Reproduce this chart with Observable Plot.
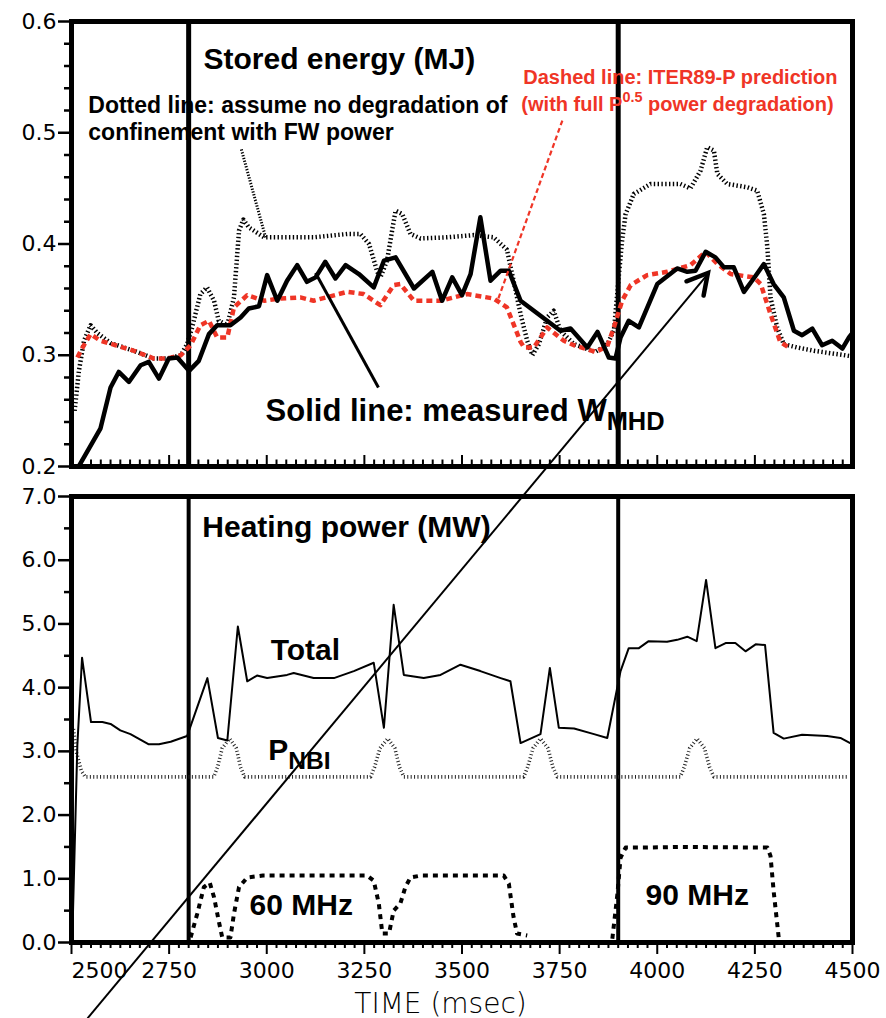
<!DOCTYPE html>
<html>
<head>
<meta charset="utf-8">
<script src="https://cdn.jsdelivr.net/npm/d3@7"></script>
<script src="https://cdn.jsdelivr.net/npm/@observablehq/plot@0.6"></script>
<style>
  html, body { margin: 0; padding: 0; background: #fff; }
  #chart { position: relative; width: 886px; height: 1018px; overflow: hidden; }
  #chart svg { position: absolute; left: 0; top: 0; }
</style>
</head>
<body>
<div id="chart"></div>
<script>
// ---------------- data ----------------
// Time axis (ms)
const timeDomain = [2500, 4500];
const timeTicks = [2500, 2750, 3000, 3250, 3500, 3750, 4000, 4250, 4500];
const timeMinorTicks = d3.range(2500, 4501, 25).filter(t => t % 250 !== 0);

// Stored-energy axis (MJ)
const energyDomain = [0.2, 0.6];
const energyTicks = [0.2, 0.3, 0.4, 0.5, 0.6];
const energyMinorTicks = [0.22, 0.24, 0.26, 0.28, 0.32, 0.34, 0.36, 0.38,
  0.42, 0.44, 0.46, 0.48, 0.52, 0.54, 0.56, 0.58];

// Heating-power axis (MW)
const powerDomain = [0, 7];
const powerTicks = [0, 1, 2, 3, 4, 5, 6, 7];
const powerMinorTicks = [0.5, 1.5, 2.5, 3.5, 4.5, 5.5, 6.5];

// FW (fast wave) switch-on times
const fwEdges = [2800, 3900];

// Measured W_MHD (MJ)
const measuredW = [
  [2520, 0.201], [2574, 0.234], [2600, 0.271], [2621, 0.285], [2647, 0.276],
  [2677, 0.291], [2698, 0.294], [2724, 0.279], [2749, 0.297], [2771, 0.298],
  [2801, 0.286], [2826, 0.295], [2852, 0.319], [2873, 0.327], [2907, 0.327],
  [2933, 0.334], [2954, 0.342], [2980, 0.344], [3001, 0.372], [3027, 0.349],
  [3052, 0.367], [3078, 0.381], [3103, 0.366], [3125, 0.370], [3150, 0.384],
  [3176, 0.369], [3202, 0.381], [3236, 0.373], [3274, 0.361], [3300, 0.385],
  [3330, 0.388], [3377, 0.360], [3424, 0.375], [3449, 0.349], [3475, 0.370],
  [3500, 0.354], [3522, 0.373], [3547, 0.424], [3573, 0.367], [3599, 0.376],
  [3620, 0.376], [3650, 0.349], [3718, 0.331], [3752, 0.322], [3778, 0.324],
  [3821, 0.307], [3847, 0.321], [3876, 0.298], [3893, 0.297], [3906, 0.316],
  [3927, 0.331], [3953, 0.325], [4000, 0.364], [4051, 0.378], [4077, 0.375],
  [4098, 0.376], [4124, 0.393], [4149, 0.388], [4171, 0.379], [4196, 0.379],
  [4222, 0.357], [4247, 0.369], [4273, 0.382], [4298, 0.364], [4324, 0.352],
  [4350, 0.322], [4371, 0.318], [4397, 0.324], [4422, 0.309], [4448, 0.313],
  [4474, 0.306], [4491, 0.316], [4500, 0.320]
];

// ITER89-P prediction with full P^0.5 degradation (MJ)
const iter89W = [
  [2515, 0.298], [2530, 0.308], [2549, 0.319], [2574, 0.313], [2613, 0.309],
  [2660, 0.304], [2711, 0.297], [2745, 0.297], [2780, 0.300], [2805, 0.309],
  [2830, 0.327], [2852, 0.331], [2873, 0.316], [2899, 0.316], [2916, 0.343],
  [2950, 0.354], [2993, 0.349], [3035, 0.351], [3086, 0.352], [3120, 0.349],
  [3206, 0.357], [3248, 0.355], [3291, 0.345], [3325, 0.363], [3342, 0.364],
  [3377, 0.349], [3445, 0.349], [3513, 0.355], [3581, 0.351], [3615, 0.343],
  [3650, 0.312], [3659, 0.307], [3684, 0.307], [3718, 0.325], [3761, 0.313],
  [3787, 0.309], [3842, 0.303], [3872, 0.308], [3889, 0.325], [3910, 0.349],
  [3932, 0.363], [3974, 0.372], [4025, 0.375], [4085, 0.381], [4124, 0.393],
  [4154, 0.382], [4188, 0.373], [4247, 0.370], [4265, 0.364], [4290, 0.337],
  [4315, 0.312], [4341, 0.306]
];

// No degradation of confinement with FW power (MJ)
const noDegradationW = [
  [2508, 0.250], [2519, 0.286], [2532, 0.313], [2549, 0.327], [2566, 0.320],
  [2600, 0.311], [2660, 0.304], [2711, 0.297], [2745, 0.297], [2780, 0.300],
  [2796, 0.310], [2809, 0.325], [2830, 0.355], [2847, 0.361], [2865, 0.349],
  [2877, 0.331], [2899, 0.327], [2916, 0.352], [2929, 0.412], [2940, 0.422],
  [2954, 0.415], [2993, 0.406], [3035, 0.406], [3120, 0.406], [3206, 0.409],
  [3240, 0.409], [3262, 0.400], [3283, 0.375], [3291, 0.370], [3308, 0.385],
  [3321, 0.412], [3330, 0.430], [3347, 0.427], [3368, 0.409], [3394, 0.405],
  [3462, 0.406], [3530, 0.408], [3581, 0.406], [3615, 0.395], [3632, 0.367],
  [3650, 0.337], [3667, 0.313], [3680, 0.300], [3697, 0.310], [3718, 0.334],
  [3735, 0.340], [3752, 0.322], [3787, 0.310], [3842, 0.303], [3872, 0.310],
  [3889, 0.322], [3902, 0.373], [3910, 0.403], [3919, 0.427], [3940, 0.445],
  [3983, 0.454], [4059, 0.454], [4085, 0.450], [4111, 0.466], [4128, 0.487],
  [4145, 0.484], [4154, 0.463], [4179, 0.454], [4231, 0.451], [4256, 0.448],
  [4273, 0.427], [4282, 0.397], [4290, 0.352], [4307, 0.325], [4324, 0.310],
  [4358, 0.307], [4401, 0.304], [4500, 0.299]
];

// Total heating power (MW)
const totalPower = [
  [2502, 0.05], [2515, 3.10], [2527, 4.47], [2550, 3.46], [2579, 3.46],
  [2600, 3.43], [2625, 3.33], [2651, 3.27], [2698, 3.11], [2724, 3.11],
  [2754, 3.15], [2796, 3.24], [2848, 4.15], [2875, 3.21], [2899, 3.17],
  [2926, 4.96], [2950, 4.10], [2975, 4.19], [3001, 4.15], [3052, 4.20],
  [3069, 4.23], [3120, 4.15], [3172, 4.15], [3223, 4.26], [3274, 4.39],
  [3300, 3.37], [3325, 5.30], [3351, 4.20], [3402, 4.15], [3445, 4.20],
  [3496, 4.36], [3547, 4.26], [3599, 4.15], [3624, 4.10], [3650, 3.13],
  [3701, 3.27], [3725, 4.31], [3748, 3.37], [3787, 3.36], [3838, 3.27],
  [3872, 3.21], [3906, 4.26], [3927, 4.62], [3953, 4.62], [3978, 4.73],
  [4025, 4.72], [4051, 4.75], [4077, 4.80], [4101, 4.73], [4125, 5.69],
  [4149, 4.62], [4175, 4.70], [4200, 4.70], [4226, 4.57], [4252, 4.68],
  [4276, 4.67], [4298, 3.29], [4324, 3.20], [4371, 3.26], [4435, 3.24],
  [4469, 3.21], [4500, 3.11]
];

// Neutral-beam power P_NBI (MW)
const nbiPower = [
  [2505, 3.35], [2512, 3.00], [2525, 2.70], [2535, 2.60], [2864, 2.60],
  [2874, 2.75], [2886, 3.05], [2905, 3.20], [2922, 3.05], [2933, 2.75],
  [2943, 2.60], [3266, 2.60], [3276, 2.75], [3290, 3.05], [3310, 3.20],
  [3328, 3.05], [3340, 2.75], [3351, 2.60], [3658, 2.60], [3668, 2.75],
  [3682, 3.05], [3701, 3.20], [3720, 3.05], [3733, 2.75], [3744, 2.60],
  [4059, 2.60], [4069, 2.75], [4083, 3.05], [4102, 3.20], [4121, 3.05],
  [4134, 2.75], [4145, 2.60], [4490, 2.60]
];

// FW power, 60 MHz pulse (MW)
const fw60Power = [
  [2805, 0.08], [2822, 0.45], [2839, 0.87], [2854, 0.94], [2865, 0.71],
  [2877, 0.34], [2886, 0.08], [2907, 0.08], [2916, 0.45], [2929, 0.87],
  [2950, 1.02], [2990, 1.05], [3086, 1.05], [3257, 1.05], [3274, 0.97],
  [3287, 0.61], [3296, 0.14], [3313, 0.14], [3325, 0.50], [3342, 0.61],
  [3355, 0.87], [3368, 1.02], [3394, 1.05], [3607, 1.05], [3620, 0.92],
  [3632, 0.40], [3641, 0.14], [3667, 0.11]
];

// FW power, 90 MHz pulse (MW)
const fw90Power = [
  [3885, 0.06], [3898, 0.76], [3906, 1.33], [3919, 1.49], [3974, 1.49],
  [4059, 1.50], [4282, 1.49], [4290, 1.36], [4298, 0.81], [4311, 0.08]
];

// ---------------- annotations (anchored in data units) ----------------
const energyTitle = [{t: 2838, v: 0.5575, label: "Stored energy (MJ)"}];
const dottedNote = [
  {t: 2543, v: 0.518, label: "Dotted line: assume no degradation of"},
  {t: 2543, v: 0.4935, label: "confinement with FW power"}
];
const dashedNote = [
  {t: 3657, v: 0.5441, label: "Dashed line: ITER89-P prediction"},
  {t: 3652, v: 0.5198, label: "(with full P^{0.5} power degradation)"}
];
const solidNote = [{t: 2997, v: 0.2413, label: "Solid line: measured W_{MHD}"}];
const dottedPointer = [{t1: 2935, v1: 0.485, t2: 2997, v2: 0.406}];
const dashedPointer = [{t1: 3757, v1: 0.511, t2: 3591, v2: 0.349}];
const solidPointer = [{t1: 3286, v1: 0.271, t2: 3125, v2: 0.374}];
const peakArrow = [{t1: 2541, v1: -0.296, t2: 4131, v2: 0.3735}];

const powerTitle = [{t: 2835, v: 6.358, label: "Heating power (MW)"}];
const powerLabels = [
  {t: 3010, v: 4.427, label: "Total"},
  {t: 3004, v: 2.857, label: "P_{NBI}"},
  {t: 2956, v: 0.424, label: "60 MHz"},
  {t: 3970, v: 0.581, label: "90 MHz"}
];
const timeLabel = ["TIME (msec)"];

// ---------------- layout ----------------
const W = 886, H = 1018;
const mL = 71, mR = 34;
const topMargins = {marginTop: 21, marginBottom: H - 466};
const botMargins = {marginTop: 496, marginBottom: H - 942};
const topFrameH = H - topMargins.marginTop - topMargins.marginBottom;

const pts = arr => arr.map(([t, v]) => ({t, v}));
const boldFont = "Liberation Sans, Arial, Helvetica, sans-serif";
const axisFont = "DejaVu Sans, Verdana, sans-serif";
const red = "#ef3526";

// Open arrowhead drawn through the plot's scales
function arrowHeadMark(link, len, spreadDeg, width) {
  return (index, scales) => {
    const d = link[0];
    const x0 = scales.x(d.t1), y0 = scales.y(d.v1);
    const x1 = scales.x(d.t2), y1 = scales.y(d.v2);
    const a = Math.atan2(y1 - y0, x1 - x0), s = spreadDeg * Math.PI / 180;
    const w1 = [x1 - len * Math.cos(a - s), y1 - len * Math.sin(a - s)];
    const w2 = [x1 - len * Math.cos(a + s), y1 - len * Math.sin(a + s)];
    const p = document.createElementNS("http://www.w3.org/2000/svg", "path");
    p.setAttribute("d", `M${w1[0]},${w1[1]}L${x1},${y1}L${w2[0]},${w2[1]}`);
    p.setAttribute("fill", "none");
    p.setAttribute("stroke", "black");
    p.setAttribute("stroke-width", width);
    p.setAttribute("stroke-linecap", "round");
    p.setAttribute("stroke-linejoin", "miter");
    return p;
  };
}

// ---------------- stored energy panel ----------------
const topPlot = Plot.plot({
  width: W, height: H,
  marginLeft: mL, marginRight: mR, ...topMargins,
  style: {background: "transparent", overflow: "visible", fontFamily: axisFont, fontSize: "22px", color: "black"},
  x: {domain: timeDomain, axis: null, label: null},
  y: {domain: energyDomain, label: null},
  marks: [
    Plot.ruleX(fwEdges, {x: d => d, stroke: "black", strokeWidth: 5}),
    Plot.line(pts(noDegradationW), {x: "t", y: "v", stroke: "black", strokeWidth: 4.5, strokeDasharray: "1.4,2.4", strokeLinecap: "butt"}),
    Plot.line(pts(iter89W), {x: "t", y: "v", stroke: red, strokeWidth: 4.5, strokeDasharray: "6,4", strokeLinecap: "butt"}),
    Plot.line(pts(measuredW), {x: "t", y: "v", stroke: "black", strokeWidth: 4.5, strokeLinejoin: "round"}),
    Plot.frame({stroke: "black", strokeWidth: 5}),
    Plot.tickX(timeMinorTicks, {x: d => d, stroke: "black", strokeWidth: 2, insetTop: topFrameH - 6.5}),
    Plot.tickX(timeTicks, {x: d => d, stroke: "black", strokeWidth: 2, insetTop: topFrameH - 11}),
    Plot.axisY({ticks: energyMinorTicks, anchor: "left", tickSize: 7, strokeWidth: 2.5, tickFormat: () => "", label: null}),
    Plot.axisY({ticks: energyTicks, anchor: "left", tickSize: 13, tickPadding: 2, strokeWidth: 2.5, tickFormat: ".1f", fontSize: 22, label: null}),
    Plot.text(energyTitle, {x: "t", y: "v", text: "label", textAnchor: "start", lineAnchor: "bottom", fontFamily: boldFont, fontWeight: "bold", fontSize: 30, fill: "black"}),
    Plot.text(dottedNote, {x: "t", y: "v", text: "label", textAnchor: "start", lineAnchor: "bottom", fontFamily: boldFont, fontWeight: "bold", fontSize: 23, fill: "black", ariaLabel: "dotted note"}),
    Plot.text(dashedNote, {x: "t", y: "v", text: "label", textAnchor: "start", lineAnchor: "bottom", fontFamily: boldFont, fontWeight: "bold", fontSize: 20, fill: red, ariaLabel: "dashed note"}),
    Plot.text(solidNote, {x: "t", y: "v", text: "label", textAnchor: "start", lineAnchor: "bottom", fontFamily: boldFont, fontWeight: "bold", fontSize: 31, fill: "black", ariaLabel: "solid note"}),
    Plot.link(dottedPointer, {x1: "t1", y1: "v1", x2: "t2", y2: "v2", stroke: "black", strokeWidth: 3, strokeDasharray: "1.3,1.6", strokeLinecap: "butt"}),
    Plot.link(dashedPointer, {x1: "t1", y1: "v1", x2: "t2", y2: "v2", stroke: red, strokeWidth: 2.2, strokeDasharray: "5,3", strokeLinecap: "butt"}),
    Plot.link(solidPointer, {x1: "t1", y1: "v1", x2: "t2", y2: "v2", stroke: "black", strokeWidth: 3}),
    Plot.link(peakArrow, {x1: "t1", y1: "v1", x2: "t2", y2: "v2", stroke: "black", strokeWidth: 2}),
    arrowHeadMark(peakArrow, 23, 29, 4.5)
  ]
});

// ---------------- heating power panel ----------------
const botPlot = Plot.plot({
  width: W, height: H,
  marginLeft: mL, marginRight: mR, ...botMargins,
  style: {background: "white", overflow: "visible", fontFamily: axisFont, fontSize: "22px", color: "black"},
  x: {domain: timeDomain, label: null},
  y: {domain: powerDomain, label: null},
  marks: [
    Plot.ruleX(fwEdges, {x: d => d, stroke: "black", strokeWidth: 4}),
    Plot.line(pts(nbiPower), {x: "t", y: "v", stroke: "#222", strokeWidth: 3.6, strokeDasharray: "1,2.4", strokeLinecap: "butt"}),
    Plot.line(pts(fw60Power), {x: "t", y: "v", stroke: "black", strokeWidth: 4, strokeDasharray: "5,5", strokeLinecap: "butt"}),
    Plot.line(pts(fw90Power), {x: "t", y: "v", stroke: "black", strokeWidth: 4, strokeDasharray: "5,5", strokeLinecap: "butt"}),
    Plot.line(pts(totalPower), {x: "t", y: "v", stroke: "black", strokeWidth: 2}),
    Plot.frame({stroke: "black", strokeWidth: 5}),
    Plot.axisY({ticks: powerMinorTicks, anchor: "left", tickSize: 7, strokeWidth: 2.5, tickFormat: () => "", label: null}),
    Plot.axisY({ticks: powerTicks, anchor: "left", tickSize: 13, tickPadding: 2, strokeWidth: 2.5, tickFormat: ".1f", fontSize: 22, label: null}),
    Plot.axisX({ticks: timeMinorTicks, anchor: "bottom", tickSize: 6, strokeWidth: 2, tickFormat: () => "", label: null}),
    Plot.axisX({ticks: timeTicks.slice(1), anchor: "bottom", tickSize: 12, tickPadding: 8, strokeWidth: 2, tickFormat: "d", fontSize: 22, label: null}),
    Plot.axisX({ticks: timeTicks.slice(0, 1), anchor: "bottom", tickSize: 12, tickPadding: 8, strokeWidth: 2, tickFormat: "d", fontSize: 22, textAnchor: "start", label: null}),
    Plot.text(timeLabel, {x: () => 3445, frameAnchor: "bottom", dy: 70, text: d => d, lineAnchor: "bottom", fontFamily: axisFont, fontWeight: 300, fontSize: 28, fill: "black"}),
    Plot.text(powerTitle, {x: "t", y: "v", text: "label", textAnchor: "start", lineAnchor: "bottom", fontFamily: boldFont, fontWeight: "bold", fontSize: 30, fill: "black"}),
    Plot.text(powerLabels, {x: "t", y: "v", text: "label", textAnchor: "start", lineAnchor: "bottom", fontFamily: boldFont, fontWeight: "bold", fontSize: 30, fill: "black"})
  ]
});

const chart = document.getElementById("chart");
chart.appendChild(botPlot);
chart.appendChild(topPlot);

// ---------------- sub/superscripts: X_{sub}, X^{sup} ----------------
const SVGNS = "http://www.w3.org/2000/svg";
function richText(svg) {
  svg.querySelectorAll("text").forEach(el => {
    if (el.children.length) return;
    const s = el.textContent;
    if (!/[_^]\{/.test(s)) return;
    const base = parseFloat(getComputedStyle(el).fontSize) || 20;
    el.textContent = "";
    el.setAttribute("style", (el.getAttribute("style") || "") + ";white-space:pre");
    let shift = 0;
    for (const part of s.split(/([_^]\{[^}]*\})/)) {
      if (!part) continue;
      const m = part.match(/^([_^])\{([^}]*)\}$/);
      const ts = document.createElementNS(SVGNS, "tspan");
      if (m) {
        const sub = m[1] === "_";
        const target = sub ? 0.3 * base : -0.42 * base;
        ts.setAttribute("dy", target - shift);
        ts.setAttribute("font-size", (sub ? 0.82 : 0.72) * base);
        ts.textContent = m[2];
        shift = target;
      } else {
        if (shift) ts.setAttribute("dy", -shift);
        shift = 0;
        ts.textContent = part;
      }
      el.appendChild(ts);
    }
  });
}
richText(topPlot);
richText(botPlot);

// White boxes behind the top-panel notes, breaking the FW marker lines
const notePad = {"dotted note": 12, "dashed note": 6, "solid note": 1};
for (const [name, pad] of Object.entries(notePad)) {
  topPlot.querySelectorAll(`g[aria-label="${name}"]`).forEach(g => {
    const texts = Array.from(g.querySelectorAll("text"));
    const first = g.firstChild;
    for (const t of texts) {
      const b = t.getBBox();
      const r = document.createElementNS(SVGNS, "rect");
      r.setAttribute("x", b.x - pad);
      r.setAttribute("y", b.y - pad);
      r.setAttribute("width", b.width + 2 * pad);
      r.setAttribute("height", b.height + 2 * pad);
      r.setAttribute("fill", "white");
      r.setAttribute("stroke", "none");
      g.insertBefore(r, first);
    }
  });
}
</script>
</body>
</html>
